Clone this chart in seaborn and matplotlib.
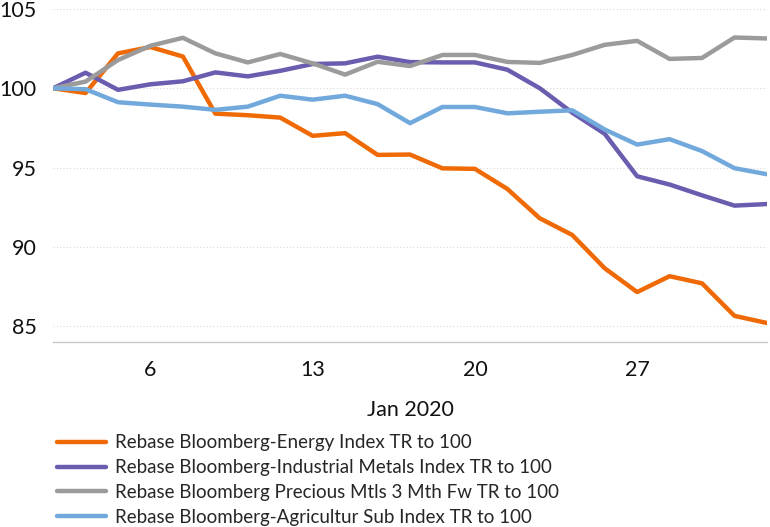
import numpy as np
import pandas as pd
import matplotlib
matplotlib.use("Agg")
import matplotlib.pyplot as plt
import seaborn as sns

################################################
#                 Data
################################################
# trading days of Jan 2020 (weekends skipped)
days = [1, 2, 3, 6, 7, 8, 9, 10, 13, 14, 15, 16, 17,
        20, 21, 22, 23, 24, 27, 28, 29, 30, 31]
major_days = [6, 13, 20, 27]

energy = [100.0, 99.7, 102.2, 102.6, 102.0, 98.4, 98.3, 98.15, 97.0, 97.17,
          95.8, 95.82, 94.95, 94.92, 93.65, 91.8, 90.75, 88.65, 87.15, 88.15,
          87.7, 85.65, 85.2]
metals = [100.0, 100.98, 99.9, 100.25, 100.44, 101.0, 100.75, 101.1, 101.53, 101.57,
          101.99, 101.65, 101.63, 101.63, 101.17, 100.0, 98.46, 97.13, 94.45, 93.93,
          93.25, 92.6, 92.7]
precious = [100.0, 100.42, 101.78, 102.68, 103.18, 102.2, 101.63, 102.16, 101.57, 100.86,
            101.67, 101.4, 102.1, 102.1, 101.66, 101.6, 102.1, 102.74, 102.99, 101.85,
            101.91, 103.2, 103.14]
agri = [100.0, 99.94, 99.12, 98.97, 98.84, 98.64, 98.84, 99.53, 99.28, 99.53,
        99.0, 97.8, 98.82, 98.82, 98.42, 98.52, 98.61, 97.4, 96.45, 96.79,
        96.04, 94.96, 94.58]

series_names = ["Rebase Bloomberg-Energy Index TR to 100",
                "Rebase Bloomberg-Industrial Metals Index TR to 100",
                "Rebase Bloomberg Precious Mtls 3 Mth Fw TR to 100",
                "Rebase Bloomberg-Agricultur Sub Index TR to 100"]
colors = ["#ef6a05", "#6a5db0", "#9b9b9b", "#72a9dc"]

y_ticks = [85, 90, 95, 100, 105]

################################################
#          Long-form table for seaborn
################################################
pos = np.arange(len(days))
frames = []
for name, vals in zip(series_names, [energy, metals, precious, agri]):
    frames.append(pd.DataFrame({"pos": pos, "value": vals, "series": name}))
df = pd.concat(frames, ignore_index=True)

################################################
#                 Plot
################################################
sns.set_style("white")
plt.rcParams['font.family'] = ['Lato', 'DejaVu Sans']

fig = plt.figure(figsize=(7.7, 5.27), dpi=100)
ax = fig.add_axes([0.069, 0.351, 0.927, 0.632])

sns.lineplot(data=df, x="pos", y="value", hue="series", palette=colors,
             hue_order=series_names, linewidth=3.2, ax=ax, legend=False)

ax.set_xlim(0, len(days) - 1)
ax.set_ylim(84, 105)
ax.set_yticks(y_ticks)
ax.set_yticklabels([str(v) for v in y_ticks], fontsize=15.5)
ax.yaxis.grid(True, linestyle=(0, (1, 2)), color="#d9d9d9", linewidth=0.8)
ax.tick_params(axis="y", length=0, pad=12, colors="#111111")

major_pos = [days.index(d) for d in major_days]
ax.set_xticks(major_pos)
ax.set_xticklabels([str(d) for d in major_days], fontsize=15.5)
ax.set_xticks(pos, minor=True)
ax.tick_params(axis="x", which="major", length=8, pad=5, colors="#111111")
ax.tick_params(axis="x", which="minor", length=4, color="#c8c8c8")
ax.tick_params(axis="x", which="major", color="#c8c8c8")
ax.set_xlabel("Jan 2020", fontsize=15.5, labelpad=14, color="#111111")
ax.set_ylabel("")

for side in ["left", "right", "top"]:
    ax.spines[side].set_visible(False)
ax.spines["bottom"].set_color("#c8c8c8")
ax.spines["bottom"].set_linewidth(1)

handles = [plt.Line2D([0], [0], color=c, linewidth=3.2) for c in colors]
fig.legend(handles, series_names, loc="upper left", bbox_to_anchor=(0.074, 0.176),
           frameon=False, fontsize=13.5, handlelength=2.6, handletextpad=0.5,
           labelspacing=0.42, borderaxespad=0, borderpad=0)

fig.savefig("out.png", dpi=100)
plt.close(fig)
